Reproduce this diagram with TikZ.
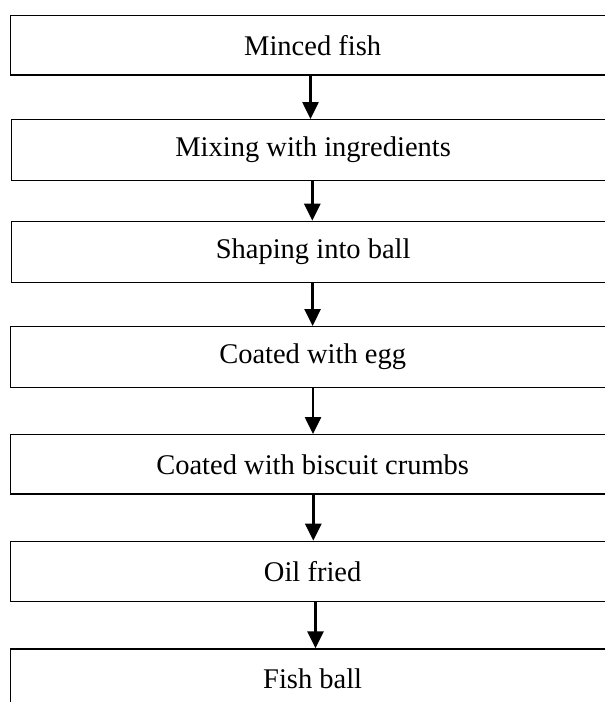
\documentclass[tikz,border=0pt]{standalone}
\usepackage{fontspec}
\setmainfont{Liberation Serif}
\usetikzlibrary{arrows.meta}
\begin{document}
\begin{tikzpicture}[x=1pt,y=-1pt,
  stepbox/.style={draw=black, line width=1.3pt, rectangle, minimum width=604pt,
    anchor=north west, inner sep=0pt, font=\fontsize{28.5}{34}\selectfont},
  flow/.style={line width=2.6pt, -{Triangle[length=17pt,width=16pt]}}]
\clip (0,0) rectangle (605,702);
\fill[white] (0,0) rectangle (605,702);
\node[stepbox, minimum height=59.6pt] (b1) at (10,14.7) {Minced fish};
\node[stepbox, minimum height=61pt] (b2) at (10.5,119) {Mixing with ingredients};
\node[stepbox, minimum height=61pt] (b3) at (10.5,220.7) {Shaping into ball};
\node[stepbox, minimum height=60.7pt] (b4) at (10,326) {Coated with egg};
\node[stepbox, minimum height=59.3pt] (b5) at (10,434) {Coated with biscuit crumbs};
\node[stepbox, minimum height=60.3pt] (b6) at (10,540.7) {Oil fried};
\node[stepbox, minimum height=60pt] (b7) at (10,648.3) {Fish ball};
\draw[flow] (b1.south -| 310.5,0) -- (b2.north -| 310.5,0);
\draw[flow] (b2.south -| 312.3,0) -- (b3.north -| 312.3,0);
\draw[flow] (b3.south -| 312.6,0) -- (b4.north -| 312.6,0);
\draw[flow] (b4.south -| 313,0) -- (b5.north -| 313,0);
\draw[flow] (b5.south -| 313.3,0) -- (b6.north -| 313.3,0);
\draw[flow] (b6.south -| 315.5,0) -- (b7.north -| 315.5,0);
\end{tikzpicture}
\end{document}
